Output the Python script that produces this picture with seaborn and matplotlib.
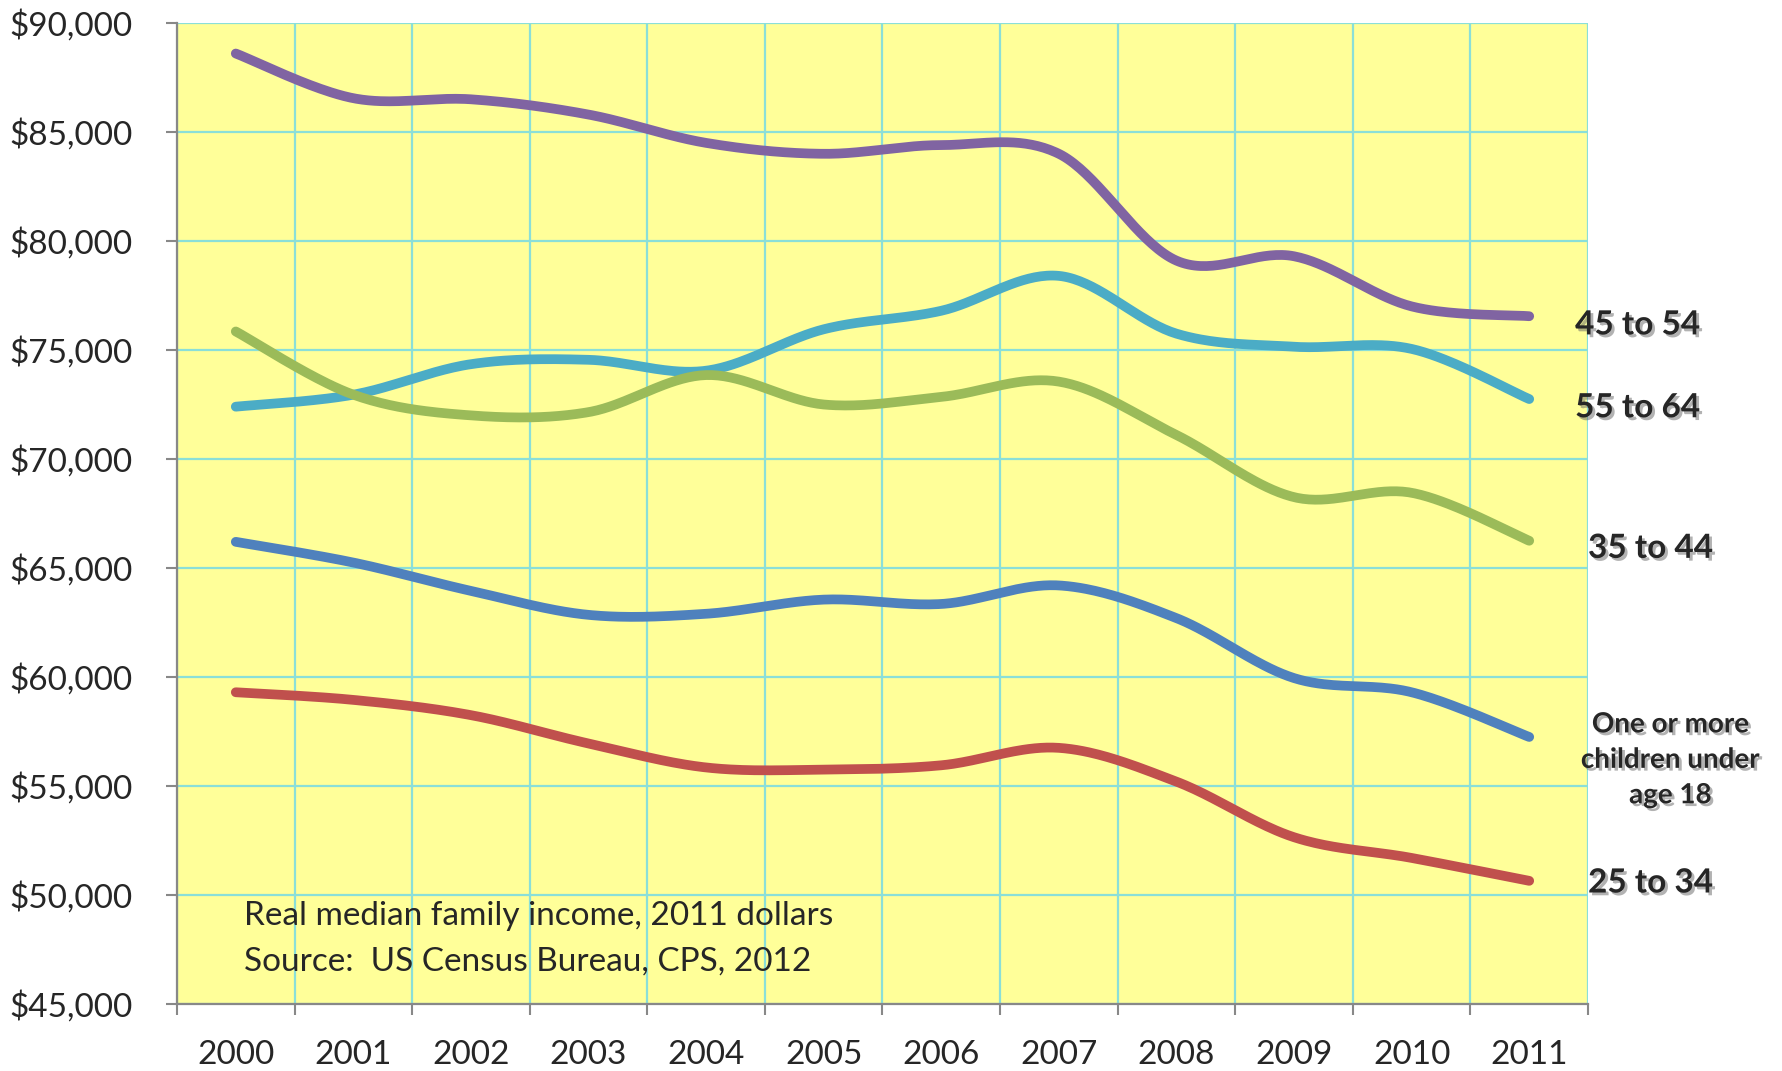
import numpy as np
import pandas as pd
import matplotlib.pyplot as plt
import matplotlib.patheffects as pe
from matplotlib.ticker import FixedLocator, FuncFormatter
import seaborn as sns

years = [str(y) for y in range(2000, 2012)]
age_45_54 = [88600, 86550, 86500, 85800, 84500, 84000, 84400, 84000, 79100, 79300, 77000, 76550]
age_55_64 = [72400, 72950, 74350, 74550, 74050, 75950, 76800, 78400, 75750, 75150, 75050, 72750]
age_35_44 = [75850, 72950, 72000, 72150, 73850, 72500, 72850, 73550, 71100, 68250, 68450, 66250]
children = [66200, 65250, 63950, 62850, 62900, 63550, 63350, 64200, 62700, 59950, 59300, 57250]
age_25_34 = [59300, 58950, 58250, 56950, 55850, 55750, 55950, 56750, 55200, 52650, 51700, 50650]

series = {
    '45 to 54': (age_45_54, '#8064A2'),
    '55 to 64': (age_55_64, '#4BACC6'),
    '35 to 44': (age_35_44, '#9BBB59'),
    'children': (children, '#4F81BD'),
    '25 to 34': (age_25_34, '#C0504D'),
}


def smooth(vals, n=40):
    # excel-style smoothed line: bezier segments with catmull-rom control points
    p = np.array(vals, dtype=float)
    x = np.arange(len(p), dtype=float)
    pts = np.column_stack([x, p])
    ext = np.vstack([pts[0], pts, pts[-1]])
    out = []
    t = np.linspace(0, 1, n)[:, None]
    for i in range(len(pts) - 1):
        p0, p1, p2, p3 = ext[i], ext[i + 1], ext[i + 2], ext[i + 3]
        c1 = p1 + (p2 - p0) / 6
        c2 = p2 - (p3 - p1) / 6
        seg = ((1 - t) ** 3) * p1 + 3 * ((1 - t) ** 2) * t * c1 + 3 * (1 - t) * t ** 2 * c2 + t ** 3 * p2
        out.append(seg if i == 0 else seg[1:])
    return np.vstack(out)


sns.set_style('white')
plt.rcParams['font.family'] = ['Lato', 'DejaVu Sans']

fig = plt.figure(figsize=(17.83, 10.71), dpi=100)
ax = fig.add_axes([177 / 1783, 1 - 1004 / 1071, (1588 - 177) / 1783, (1004 - 23) / 1071])
ax.set_facecolor('#FFFF99')

for name, (vals, col) in series.items():
    c = smooth(vals)
    df = pd.DataFrame({'x': c[:, 0], 'y': c[:, 1]})
    sns.lineplot(data=df, x='x', y='y', ax=ax, color=col, lw=7, sort=False,
                 estimator=None, solid_capstyle='round', zorder=3)

ax.set_xlim(-0.5, 11.5)
ax.set_ylim(45000, 90000)
ax.set_xlabel('')
ax.set_ylabel('')

ax.xaxis.set_major_locator(FixedLocator(np.arange(-0.5, 12, 1)))
ax.xaxis.set_major_formatter(FuncFormatter(lambda v, p: ''))
ax.set_xticks(np.arange(12), minor=True)
ax.set_xticklabels(years, minor=True)
ax.set_yticks(np.arange(45000, 90001, 5000))
ax.yaxis.set_major_formatter(FuncFormatter(lambda v, p: f'${v:,.0f}'))

ax.grid(True, which='major', color='#8ADFD8', lw=1.6, zorder=1)
ax.set_axisbelow(True)
ax.tick_params(axis='x', which='major', length=8, width=1.5, color='#888888', direction='out')
ax.tick_params(axis='x', which='minor', length=0, pad=26, labelsize=24)
ax.tick_params(axis='y', length=8, width=1.5, color='#888888', direction='out', pad=24, labelsize=24)
ax.tick_params(bottom=True, left=True, which='both')
ax.tick_params(axis='x', which='minor', length=0)

for s in ['top', 'right']:
    ax.spines[s].set_visible(False)
for s in ['left', 'bottom']:
    ax.spines[s].set_color('#888888')
    ax.spines[s].set_linewidth(1.6)
    ax.spines[s].set_zorder(4)

shadow = [pe.SimplePatchShadow(offset=(2, -2), shadow_rgbFace='#666666', alpha=0.5), pe.Normal()]
kw = dict(fontsize=24, fontweight='bold', va='center', clip_on=False, path_effects=shadow)
ax.text(11.39, 76150, '45 to 54', ha='left', **kw)
ax.text(11.39, 72350, '55 to 64', ha='left', **kw)
ax.text(11.50, 65900, '35 to 44', ha='left', **kw)
ax.text(11.50, 50550, '25 to 34', ha='left', **kw)
ax.text(12.2, 56200, 'One or more\nchildren under\nage 18', ha='center', va='center',
        fontsize=20, fontweight='bold', linespacing=1.45, clip_on=False, path_effects=shadow)

ax.text(0.07, 49050, 'Real median family income, 2011 dollars', fontsize=24, va='center')
ax.text(0.07, 46950, 'Source:  US Census Bureau, CPS, 2012', fontsize=24, va='center')

fig.savefig('out.png', dpi=100)
